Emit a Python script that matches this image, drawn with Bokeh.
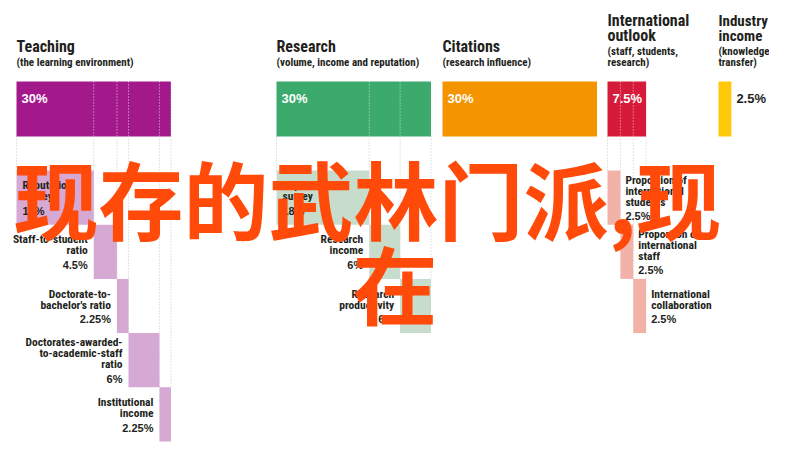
from bokeh.plotting import figure
from bokeh.models import Range1d
from bokeh.core.properties import value
from bokeh.embed import file_html
from bokeh.resources import INLINE

# ---------------- data ----------------
pillar_titles = [["Teaching"], ["Research"], ["Citations"], ["International", "outlook"], ["Industry", "income"]]
pillar_subtitles = [["(the learning environment)"], ["(volume, income and reputation)"],
                    ["(research influence)"], ["(staff, students,", "research)"], ["(knowledge", "transfer)"]]
pillar_weights = [30, 30, 30, 7.5, 2.5]

teaching_items = [["Reputation", "survey"], ["Staff-to-student", "ratio"], ["Doctorate-to-", "bachelor's ratio"],
                  ["Doctorates-awarded-", "to-academic-staff", "ratio"], ["Institutional", "income"]]
teaching_weights = [15, 4.5, 2.25, 6, 2.25]
research_items = [["Reputation", "survey"], ["Research", "income"], ["Research", "productivity"]]
research_weights = [18, 6, 6]
citations_items = []
citations_weights = []
intl_items = [["Proportion of", "international", "students"], ["Proportion of", "international", "staff"],
              ["International", "collaboration"]]
intl_weights = [2.5, 2.5, 2.5]
industry_items = []
industry_weights = []

overlay_lines = ["现存的武林门派,现", "在"]

# ---------------- style / layout ----------------
main_colors = ["#A3198C", "#3BAA6C", "#F39400", "#D51A3A", "#FFC90A"]
sub_colors = ["#D6A8D4", "#C8DCCC", None, "#F3B2A8", None]
group_x0 = [16, 276, 442, 607, 718]
title_sizes = ["16px", "16px", "16px", "16px", "15px"]
label_side = ["left", "left", None, "right", None]
items_all = [teaching_items, research_items, citations_items, intl_items, industry_items]
weights_all = [teaching_weights, research_weights, citations_weights, intl_weights, industry_weights]

K = 5.15            # pixels per percentage point
BAR_TOP, BAR_BOT = 81, 136
ROW0, ROW_H = 170, 54.2

COND = value("Roboto Condensed")
BOLD = value("Liberation Sans")
INK = "#231F20"

p = figure(width=769, height=443, output_backend="svg", toolbar_location=None,
           x_range=Range1d(0, 769), y_range=Range1d(443, 0), min_border=0)
p.axis.visible = False
p.grid.visible = False
p.outline_line_color = None
p.background_fill_color = "white"


def fmt(w):
    return f"{w:g}%"


for g in range(5):
    x0 = group_x0[g]
    w = pillar_weights[g]
    x1 = x0 + w * K
    items = items_all[g]
    ws = weights_all[g]
    n = len(ws)
    cum = [0]
    for v in ws:
        cum.append(cum[-1] + v)
    bounds = [x0 + c * K for c in cum]
    tops = [ROW0 + i * ROW_H for i in range(n)]

    # grey dotted guide lines below the main bar
    if n:
        gx, gy0, gy1 = [], [], []
        for j in range(n + 1):
            gx.append(bounds[j])
            gy0.append(BAR_BOT)
            gy1.append(tops[min(j, n - 1)])
        p.segment(x0=gx, y0=gy0, x1=gx, y1=gy1, line_color="#C8C8C8", line_width=1, line_dash="1 2")

    # main bar
    p.quad(left=[x0], right=[x1], top=[BAR_TOP], bottom=[BAR_BOT], fill_color=main_colors[g], line_color=None)

    # white dotted dividers inside the main bar
    if n > 1:
        inner = bounds[1:n] + ([bounds[n]] if g == 0 else [])
        p.segment(x0=inner, y0=[BAR_TOP] * len(inner), x1=inner, y1=[BAR_BOT] * len(inner),
                  line_color="white", line_alpha=0.75, line_width=1, line_dash="1 2")

    # main percentage
    if w * K > 30:
        p.text(x=[x0 + 5], y=[98], text=[fmt(w)], text_color="white", text_font=BOLD,
               text_font_style="bold", text_font_size="13px", text_baseline="middle", text_align="left")
    else:
        p.text(x=[x1 + 5], y=[98], text=[fmt(w)], text_color=INK, text_font=BOLD,
               text_font_style="bold", text_font_size="13px", text_baseline="middle", text_align="left")

    # titles
    subs = pillar_subtitles[g]
    titles = pillar_titles[g]
    sub_first = 62 - (len(subs) - 1) * 11
    p.text(x=[x0] * len(subs), y=[sub_first + i * 11 for i in range(len(subs))], text=subs,
           text_color=INK, text_font=COND, text_font_style="bold", text_font_size="11px",
           text_baseline="middle", text_align="left")
    t_last = sub_first - 16
    p.text(x=[x0] * len(titles), y=[t_last - (len(titles) - 1 - i) * 15 for i in range(len(titles))],
           text=titles, text_color=INK, text_font=COND, text_font_style="bold", text_font_size=title_sizes[g],
           text_baseline="middle", text_align="left")

    # sub bars and labels
    if n:
        p.quad(left=bounds[:-1], right=bounds[1:], top=tops, bottom=[t + ROW_H for t in tops],
               fill_color=sub_colors[g], line_color=None)
        for i in range(n):
            lines = items[i]
            nl = len(lines)
            first = tops[i] + 27.5 - ((nl - 1) * 11 + 14.5) / 2
            if label_side[g] == "left":
                if i == 0:
                    lx, al = bounds[0] + 6, "left"
                else:
                    lx, al = bounds[i] - 6, "right"
            else:
                lx, al = bounds[i + 1] + 5, "left"
            p.text(x=[lx] * nl, y=[first + j * 11 for j in range(nl)], text=lines, text_color=INK,
                   text_font=COND, text_font_style="bold", text_font_size="11.5px",
                   text_baseline="middle", text_align=al)
            p.text(x=[lx], y=[first + (nl - 1) * 11 + 14.5], text=[fmt(ws[i])], text_color=INK,
                   text_font=BOLD, text_font_style="bold", text_font_size="11px",
                   text_baseline="middle", text_align=al)

# overlay caption
p.text(x=[13, 352], y=[196, 281], text=overlay_lines, text_color="#FF4A0A",
       text_font=value("Noto Sans CJK SC"), text_font_style="bold", text_font_size="85px",
       text_baseline="middle", text_align="left")

open("out.html", "w").write(file_html(p, INLINE))
